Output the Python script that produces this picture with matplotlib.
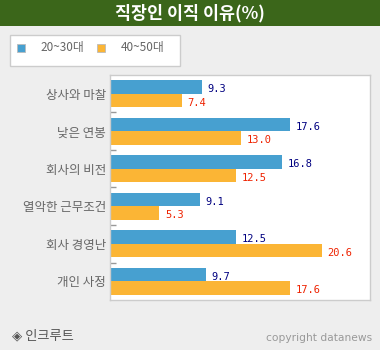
import matplotlib
matplotlib.use("Agg")
import matplotlib.pyplot as plt
from matplotlib.patches import Rectangle

plt.rcParams['font.family'] = ['Noto Sans CJK KR', 'DejaVu Sans']

categories = ["상사와 마찰", "낮은 연봉", "회사의 비전", "열악한 근무조건", "회사 경영난", "개인 사정"]
series_names = ["20~30대", "40~50대"]
young = [9.3, 17.6, 16.8, 9.1, 12.5, 9.7]
older = [7.4, 13.0, 12.5, 5.3, 20.6, 17.6]
title = "직장인 이직 이유(%)"
source = "◈ 인크루트"
credit = "copyright datanews"

W, H = 380, 350
BG = "#eeeeee"
BLUE = "#47a0d0"
ORANGE = "#fbb535"
GREEN = "#3b661a"

fig = plt.figure(figsize=(W / 100, H / 100), dpi=100, facecolor=BG)


def px_box(x0, y0, x1, y1):
    """Convert a pixel box (top-left origin) to figure fractions."""
    return [x0 / W, 1 - y1 / H, (x1 - x0) / W, (y1 - y0) / H]


# title bar
fig.patches.append(Rectangle((0, 1 - 26 / H), 1, 26 / H, transform=fig.transFigure,
                             facecolor=GREEN, edgecolor="none", zorder=0))
fig.text(190 / W, 1 - 13 / H, title, color="white", fontsize=12.5, fontweight="bold",
         ha="center", va="center")

# legend box
fig.patches.append(Rectangle((10 / W, 1 - 66 / H), 170 / W, 31 / H, transform=fig.transFigure,
                             facecolor="white", edgecolor="#cccccc", linewidth=1, zorder=1))
for (sx, tx), name, col in zip([(17, 40), (97, 121)], series_names, [BLUE, ORANGE]):
    fig.patches.append(Rectangle((sx / W, 1 - 52 / H), 8 / W, 8 / H, transform=fig.transFigure,
                                 facecolor=col, edgecolor="#bbbbbb", linewidth=0.6, zorder=2))
    fig.text(tx / W, 1 - 48 / H, name, color="#666666", fontsize=8.5, ha="left", va="center")

# main bar chart
ax = fig.add_axes(px_box(110, 75, 370, 300))
ax.set_facecolor("white")
n = len(categories)
bh = 0.36
centers = [i + 0.5 for i in range(n)]
yb = [c - 0.18 for c in centers]
yo = [c + 0.18 for c in centers]
ax.barh(yb, young, height=bh, color=BLUE, zorder=2)
ax.barh(yo, older, height=bh, color=ORANGE, zorder=2)

for y, v in zip(yb, young):
    ax.annotate(f"{v:.1f}", (v, y), xytext=(4, -1.5), textcoords="offset points",
                color="#000080", fontsize=7.5, family="DejaVu Sans Mono", va="center", ha="left")
for y, v in zip(yo, older):
    ax.annotate(f"{v:.1f}", (v, y), xytext=(4, -1.5), textcoords="offset points",
                color="#ee2200", fontsize=7.5, family="DejaVu Sans Mono", va="center", ha="left")

ax.set_xlim(0.65, 25.1)
ax.set_ylim(n, 0)
ax.set_xticks([])
ax.set_yticks(range(1, n))
ax.set_yticklabels([])
ax.tick_params(axis="y", which="major", direction="in", length=4, color="#999999", width=1)
ax.set_yticks(centers, minor=True)
ax.set_yticklabels(categories, minor=True)
ax.tick_params(axis="y", which="minor", length=0, pad=3, labelsize=9, labelcolor="#666666")
for s in ax.spines.values():
    s.set_color("#cccccc")
    s.set_linewidth(1)

# footer
fig.text(12 / W, 1 - 336 / H, source, color="#555555", fontsize=9.5, ha="left", va="center")
fig.text(372 / W, 1 - 338 / H, credit, color="#999999", fontsize=7.7,
         family="DejaVu Sans", ha="right", va="center")

fig.savefig("out.png", dpi=100, facecolor=BG)
